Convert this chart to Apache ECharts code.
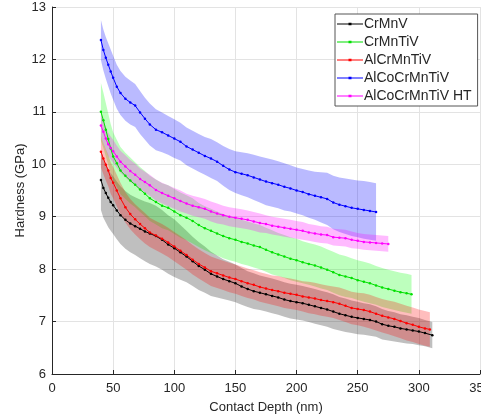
<!DOCTYPE html>
<html>
<head>
<meta charset="utf-8">
<script src="https://cdn.jsdelivr.net/npm/echarts@6/dist/echarts.min.js"></script>
<style>
  html, body { margin: 0; padding: 0; background: #fff; overflow: hidden; }
  #chart { width: 481px; height: 418px; }
</style>
</head>
<body>
<div id="chart"></div>
<script>
// Contact depth samples (nm) shared by all alloys; each alloy stops at its own last depth
const depthGrid = [40, 42, 44, 46, 48, 50, 53, 56, 60, 64, 68, 72, 76, 80,
  85, 90, 95, 100, 105, 110, 115, 120, 125, 130, 135, 140, 145, 150,
  155, 160, 165, 170, 175, 180, 185, 190, 195, 200, 205, 210, 215, 220, 225, 230,
  235, 240, 245, 250, 255, 260, 265, 270, 275, 280, 285, 290, 295, 300, 305];

const seriesNames = ['CrMnV', 'CrMnTiV', 'AlCrMnTiV', 'AlCoCrMnTiV', 'AlCoCrMnTiV HT'];
const lastDepth = [311, 294, 309, 265, 275];

// Mean hardness (GPa) and standard deviation per alloy
const crmnvMean = [9.70, 9.55, 9.45, 9.36, 9.28, 9.22, 9.12, 9.03, 8.94, 8.87, 8.82, 8.77, 8.72, 8.68,
  8.63, 8.56, 8.47, 8.40, 8.32, 8.24, 8.15, 8.06, 7.99, 7.91, 7.86, 7.81, 7.77, 7.73,
  7.67, 7.62, 7.58, 7.55, 7.52, 7.49, 7.46, 7.42, 7.39, 7.37, 7.35, 7.32, 7.29, 7.26, 7.23, 7.19,
  7.15, 7.12, 7.09, 7.07, 7.05, 7.03, 7.00, 6.95, 6.92, 6.90, 6.87, 6.85, 6.83, 6.81, 6.78, 6.74];
const crmnvSd = [0.57, 0.57, 0.56, 0.56, 0.55, 0.55, 0.55, 0.55, 0.55, 0.55, 0.55, 0.56, 0.57, 0.58,
  0.58, 0.57, 0.56, 0.55, 0.52, 0.49, 0.47, 0.46, 0.44, 0.42, 0.40, 0.38, 0.37, 0.36,
  0.35, 0.34, 0.34, 0.33, 0.33, 0.33, 0.33, 0.33, 0.33, 0.33, 0.33, 0.33, 0.33, 0.33, 0.33, 0.33,
  0.32, 0.32, 0.31, 0.31, 0.30, 0.30, 0.29, 0.29, 0.28, 0.28, 0.27, 0.27, 0.26, 0.26, 0.25, 0.25];

const crmntivMean = [11.00, 10.84, 10.66, 10.48, 10.30, 10.15, 10.02, 9.88, 9.78, 9.69, 9.61, 9.52, 9.44, 9.35,
  9.28, 9.21, 9.17, 9.10, 9.03, 8.98, 8.92, 8.84, 8.78, 8.73, 8.68, 8.63, 8.59, 8.56,
  8.52, 8.49, 8.45, 8.42, 8.37, 8.32, 8.28, 8.24, 8.20, 8.17, 8.13, 8.10, 8.07, 8.03, 7.99, 7.94,
  7.89, 7.86, 7.83, 7.79, 7.76, 7.73, 7.69, 7.65, 7.62, 7.59, 7.56, 7.54, 7.52];
const crmntivSd = [0.55, 0.53, 0.51, 0.49, 0.47, 0.46, 0.45, 0.45, 0.44, 0.44, 0.43, 0.43, 0.43, 0.43,
  0.43, 0.43, 0.43, 0.43, 0.43, 0.43, 0.43, 0.42, 0.42, 0.42, 0.42, 0.42, 0.42, 0.42,
  0.42, 0.42, 0.42, 0.42, 0.42, 0.42, 0.41, 0.41, 0.41, 0.41, 0.40, 0.40, 0.40, 0.40, 0.39, 0.39,
  0.39, 0.39, 0.38, 0.38, 0.38, 0.38, 0.37, 0.37, 0.37, 0.37, 0.37, 0.37, 0.37];

const alcrmntivMean = [10.24, 10.11, 9.99, 9.88, 9.74, 9.65, 9.50, 9.35, 9.18, 9.05, 8.95, 8.86, 8.78, 8.70,
  8.64, 8.58, 8.51, 8.43, 8.35, 8.27, 8.18, 8.10, 8.03, 7.96, 7.92, 7.88, 7.84, 7.81,
  7.77, 7.73, 7.70, 7.66, 7.63, 7.60, 7.58, 7.55, 7.53, 7.51, 7.48, 7.46, 7.44, 7.41, 7.39, 7.37,
  7.34, 7.30, 7.26, 7.24, 7.22, 7.19, 7.15, 7.11, 7.08, 7.05, 7.01, 6.97, 6.94, 6.90, 6.87, 6.85];
const alcrmntivSd = [0.30, 0.30, 0.30, 0.30, 0.30, 0.30, 0.30, 0.30, 0.29, 0.29, 0.29, 0.29, 0.29, 0.28,
  0.28, 0.28, 0.28, 0.28, 0.28, 0.28, 0.28, 0.28, 0.28, 0.28, 0.28, 0.28, 0.28, 0.28,
  0.28, 0.28, 0.28, 0.28, 0.28, 0.28, 0.29, 0.29, 0.29, 0.29, 0.29, 0.30, 0.30, 0.30, 0.30, 0.30,
  0.31, 0.31, 0.31, 0.31, 0.32, 0.32, 0.32, 0.32, 0.32, 0.33, 0.33, 0.33, 0.33, 0.33, 0.33, 0.33];

const alcocrmntivMean = [12.37, 12.18, 12.03, 11.90, 11.77, 11.65, 11.48, 11.36, 11.25, 11.18, 11.12, 10.99, 10.87, 10.76,
  10.66, 10.61, 10.55, 10.49, 10.43, 10.34, 10.28, 10.22, 10.16, 10.11, 10.05, 9.97, 9.90, 9.85,
  9.82, 9.79, 9.75, 9.71, 9.67, 9.64, 9.61, 9.57, 9.54, 9.50, 9.47, 9.43, 9.40, 9.37, 9.34, 9.27,
  9.23, 9.20, 9.17, 9.15, 9.13, 9.11, 9.09];
const alcocrmntivSd = [0.38, 0.39, 0.40, 0.41, 0.42, 0.42, 0.42, 0.42, 0.42, 0.42, 0.41, 0.41, 0.40, 0.40,
  0.39, 0.38, 0.37, 0.37, 0.36, 0.36, 0.36, 0.36, 0.36, 0.37, 0.37, 0.38, 0.39, 0.40,
  0.41, 0.42, 0.43, 0.44, 0.45, 0.45, 0.45, 0.45, 0.44, 0.44, 0.44, 0.45, 0.46, 0.48, 0.50, 0.51,
  0.52, 0.53, 0.54, 0.54, 0.55, 0.55, 0.55];

const alcocrmntivHtMean = [10.74, 10.62, 10.49, 10.38, 10.31, 10.25, 10.15, 10.05, 9.96, 9.87, 9.80, 9.72, 9.66, 9.60,
  9.51, 9.45, 9.40, 9.35, 9.30, 9.25, 9.21, 9.18, 9.15, 9.10, 9.06, 9.03, 9.00, 8.98,
  8.96, 8.94, 8.91, 8.88, 8.86, 8.83, 8.81, 8.79, 8.77, 8.75, 8.73, 8.70, 8.68, 8.66, 8.65, 8.61,
  8.60, 8.59, 8.56, 8.54, 8.52, 8.51, 8.50, 8.49, 8.48];
const alcocrmntivHtSd = [0.22, 0.22, 0.22, 0.22, 0.22, 0.22, 0.21, 0.21, 0.21, 0.21, 0.21, 0.20, 0.20, 0.20,
  0.20, 0.20, 0.20, 0.20, 0.20, 0.19, 0.19, 0.19, 0.19, 0.19, 0.19, 0.18, 0.18, 0.18,
  0.18, 0.18, 0.18, 0.18, 0.17, 0.17, 0.17, 0.17, 0.17, 0.17, 0.17, 0.16, 0.16, 0.16, 0.16, 0.16,
  0.16, 0.16, 0.16, 0.15, 0.15, 0.15, 0.15, 0.15, 0.15];

const yTicks = [6, 7, 8, 9, 10, 11, 12, 13];
const xTicks = [0, 50, 100, 150, 200, 250, 300, 350];

const means = [crmnvMean, crmntivMean, alcrmntivMean, alcocrmntivMean, alcocrmntivHtMean];
const sds = [crmnvSd, crmntivSd, alcrmntivSd, alcocrmntivSd, alcocrmntivHtSd];
const lineColors = ['#000000', '#00e000', '#ff0000', '#0000ff', '#ff00ff'];
const bandColors = ['rgba(0,0,0,0.25)', 'rgba(0,255,0,0.26)', 'rgba(255,0,0,0.26)',
  'rgba(0,0,255,0.27)', 'rgba(255,0,255,0.27)'];

function depthsFor(i) {
  const n = means[i].length;
  const d = depthGrid.slice(0, n - 1);
  d.push(lastDepth[i]);
  return d;
}

const series = [];
// Shaded ±1 SD bands, each drawn as one polygon through the axis scales
means.forEach((m, i) => {
  const d = depthsFor(i);
  const rows = m.map((v, k) => [d[k], +(v - sds[i][k]).toFixed(3), +(v + sds[i][k]).toFixed(3)]);
  series.push({
    name: 'band-' + i, type: 'custom', data: rows, silent: true, z: 1,
    encode: { x: 0, y: [1, 2] }, clip: true,
    renderItem: function (params, api) {
      if (params.dataIndex !== 0) return null;
      const upper = rows.map(r => api.coord([r[0], r[2]]));
      const lower = rows.map(r => api.coord([r[0], r[1]])).reverse();
      return {
        type: 'polygon',
        shape: { points: upper.concat(lower) },
        style: { fill: bandColors[i], stroke: null }
      };
    }
  });
});
// Mean curves with small dot markers
means.forEach((m, i) => {
  const d = depthsFor(i);
  series.push({
    name: seriesNames[i], type: 'line', data: m.map((v, k) => [d[k], v]),
    symbol: 'circle', symbolSize: 2.5, showSymbol: true, showAllSymbol: true,
    color: lineColors[i], lineStyle: { width: 1, color: lineColors[i] },
    itemStyle: { color: lineColors[i] }, z: 3
  });
});

const axisColor = '#262626';
const chart = echarts.init(document.getElementById('chart'), null,
  { renderer: 'canvas', width: 481, height: 418 });
chart.setOption({
  animation: false,
  backgroundColor: '#ffffff',
  textStyle: { fontFamily: 'Liberation Sans, Arial, sans-serif' },
  grid: { left: 52, right: 1, top: 7, bottom: 44, containLabel: false, outerBoundsMode: 'none' },
  legend: {
    data: seriesNames,
    orient: 'vertical', left: 335, top: 14,
    padding: [3, 6, 3, 2], itemGap: 4, itemWidth: 26, itemHeight: 14,
    backgroundColor: '#ffffff', borderColor: '#555555', borderWidth: 1, borderRadius: 0,
    textStyle: { fontSize: 14, color: '#262626', padding: [0, 0, 0, -4] },
    icon: 'path://M0,6.5 L26,6.5 L26,7.5 L0,7.5 Z M11.5,5.8 L14.5,5.8 L14.5,8.2 L11.5,8.2 Z'
  },
  xAxis: {
    type: 'value', min: xTicks[0], max: xTicks[xTicks.length - 1], interval: 50,
    name: 'Contact Depth (nm)', nameLocation: 'middle', nameGap: 27, nameMoveOverlap: false,
    nameTextStyle: { fontSize: 13, color: axisColor },
    axisLine: { show: true, lineStyle: { color: axisColor, width: 1 } },
    axisTick: { show: true, inside: true, length: 4, lineStyle: { color: axisColor } },
    axisLabel: { fontSize: 13, color: axisColor, margin: 8, showMaxLabel: true },
    splitLine: { show: true, lineStyle: { color: '#e3e3e3', width: 1 } }
  },
  yAxis: {
    type: 'value', min: yTicks[0], max: yTicks[yTicks.length - 1], interval: 1,
    name: 'Hardness (GPa)', nameLocation: 'middle', nameGap: 25, nameRotate: 90, nameMoveOverlap: false,
    nameTextStyle: { fontSize: 13, color: axisColor },
    axisLine: { show: true, lineStyle: { color: axisColor, width: 1 } },
    axisTick: { show: true, inside: true, length: 4, lineStyle: { color: axisColor } },
    axisLabel: { fontSize: 13, color: axisColor, margin: 6 },
    splitLine: { show: true, lineStyle: { color: '#e3e3e3', width: 1 } }
  },
  series: series
});
</script>
</body>
</html>
